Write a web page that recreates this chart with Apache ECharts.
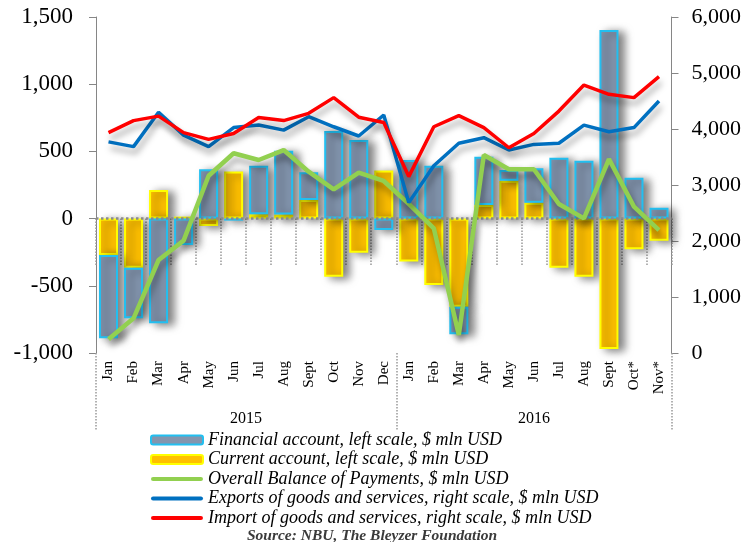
<!DOCTYPE html>
<html>
<head>
<meta charset="utf-8">
<script src="https://cdn.jsdelivr.net/npm/echarts/dist/echarts.min.js"></script>
<style>
  html, body { margin: 0; padding: 0; background: #fff; }
  #chart { width: 744px; height: 542px; }
</style>
</head>
<body>
<div id="chart"></div>
<script>
// months, Jan 2015 - Nov 2016
const months = ['Jan', 'Feb', 'Mar', 'Apr', 'May', 'Jun', 'Jul', 'Aug', 'Sept', 'Oct', 'Nov', 'Dec',
  'Jan', 'Feb', 'Mar', 'Apr', 'May', 'Jun', 'Jul', 'Aug', 'Sept', 'Oct*', 'Nov*']
const years = ['2015', '2016']

// left scale, $ mln USD (stacked: current account sits next to zero)
const currentAccount = [-270, -365, 213, 15, -55, 350, 32, 30, 138, -432, -254, 357,
  -320, -494, -655, 101, 282, 118, -365, -432, -970, -228, -164]
const financialAccount = [-620, -377, -779, -196, 367, -15, 362, 475, 206, 652, 585, -85,
  436, 394, -206, 360, 80, 256, 453, 431, 1403, 304, 81]
const overallBalance = [-898, -742, -308, -164, 319, 486, 436, 510, 349, 218, 342, 280,
  110, -72, -866, 473, 367, 367, 109, 2, 443, 89, -85]

// right scale, $ mln USD
const exportsGS = [3770, 3685, 4300, 3890, 3685, 4025, 4070, 3980, 4220, 4040, 3875, 4250,
  2685, 3345, 3745, 3845, 3625, 3725, 3745, 4070, 3950, 4025, 4500]
const importsGS = [3935, 4150, 4230, 3935, 3815, 3920, 4205, 4150, 4280, 4560, 4210, 4115,
  3150, 4040, 4240, 4025, 3665, 3920, 4320, 4785, 4620, 4560, 4935]

const serif = 'Liberation Serif'
const names = [
  'Financial account, left scale, $ mln USD',
  'Current account, left scale, $ mln USD',
  'Overall Balance of Payments, $ mln USD',
  'Exports of goods and services, right scale, $ mln USD',
  'Import of goods and services, right scale, $ mln USD'
]

const chart = echarts.init(document.getElementById('chart'))

const barShadow = { shadowColor: 'rgba(0,0,0,0.5)', shadowBlur: 9, shadowOffsetX: 6, shadowOffsetY: 2 }
const lineShadow = { shadowColor: 'rgba(0,0,0,0.35)', shadowBlur: 6, shadowOffsetX: 2, shadowOffsetY: 6 }
const noShadow = { shadowBlur: 0, shadowOffsetX: 0, shadowOffsetY: 0, shadowColor: 'transparent' }
const lineIcon = 'path://M2,0 L48,0 A2,2 0 0 1 48,4 L2,4 A2,2 0 0 1 2,0 Z'

function lineSeries(name, data, color, width, yIndex) {
  return {
    name: name,
    type: 'line',
    yAxisIndex: yIndex,
    data: data,
    symbol: 'none',
    z: 4,
    lineStyle: Object.assign({ color: color, width: width }, lineShadow),
    itemStyle: { color: color }
  }
}

function thousands(v) {
  return String(v).replace(/\B(?=(\d{3})+(?!\d))/g, ',')
}

const option = {
  animation: false,
  textStyle: { fontFamily: serif },
  grid: { left: 96, right: 70, top: 17, bottom: 189 },
  title: {
    text: 'Source: NBU, The Bleyzer Foundation',
    left: 'center',
    top: 523,
    textStyle: { fontFamily: serif, fontSize: 15.5, fontStyle: 'italic', fontWeight: 'bold', color: '#3a3a3a' }
  },
  legend: {
    orient: 'vertical',
    left: 145,
    top: 426,
    itemWidth: 52,
    itemHeight: 9,
    itemGap: 1.5,
    data: names.map(function (n, i) {
      return i < 2 ? { name: n } : { name: n, icon: lineIcon, itemStyle: { borderWidth: 0 } }
    }),
    textStyle: { fontFamily: serif, fontSize: 18, fontStyle: 'italic', color: '#000' },
    itemStyle: noShadow,
    lineStyle: noShadow
  },
  xAxis: [
    {
      type: 'category',
      position: 'bottom',
      data: months,
      axisLine: { show: false },
      axisTick: { show: true, interval: 0, length: 47, lineStyle: { type: 'dotted', color: '#999', width: 1.5 } },
      axisLabel: { interval: 0, rotate: 90, margin: 8, fontSize: 15, color: '#000', fontFamily: serif }
    },
    {
      type: 'category',
      position: 'bottom',
      data: months,
      axisLine: { show: false },
      axisTick: {
        show: true,
        interval: function (i) { return i === 0 || i === 12 },
        length: 77,
        lineStyle: { type: 'dotted', color: '#999', width: 1.5 }
      },
      axisLabel: {
        interval: function (i) { return i === 5 || i === 17 },
        margin: 58,
        fontSize: 16,
        color: '#000',
        fontFamily: serif,
        formatter: function (v, i) { return i === 5 ? '{s|' + years[0] + '}' : years[1] },
        rich: { s: { fontSize: 16, fontFamily: serif, color: '#000', padding: [0, 0, 0, 25] } }
      }
    }
  ],
  yAxis: [
    {
      type: 'value',
      min: -1000,
      max: 1500,
      interval: 500,
      splitLine: { show: false },
      axisLine: { show: true, lineStyle: { color: '#868686' } },
      axisTick: { show: true, length: 7, lineStyle: { color: '#868686' } },
      axisLabel: { margin: 23, fontSize: 23, color: '#000', fontFamily: serif, formatter: thousands }
    },
    {
      type: 'value',
      min: 0,
      max: 6000,
      interval: 1000,
      splitLine: { show: false },
      axisLine: { show: true, lineStyle: { color: '#868686' } },
      axisTick: { show: true, length: 7, lineStyle: { color: '#868686' } },
      axisLabel: { margin: 20, fontSize: 22, color: '#000', fontFamily: serif, formatter: thousands }
    }
  ],
  series: [
    {
      name: names[1],
      type: 'bar',
      stack: 'acc',
      barWidth: '76%',
      data: currentAccount,
      itemStyle: Object.assign({ color: '#ffc000', borderColor: '#ffff00', borderWidth: 2 }, barShadow)
    },
    {
      name: names[0],
      type: 'bar',
      stack: 'acc',
      barWidth: '76%',
      data: financialAccount,
      itemStyle: Object.assign({ color: '#8395ae', borderColor: '#22bff0', borderWidth: 2 }, barShadow),
      markLine: {
        silent: true,
        symbol: 'none',
        z: 3,
        label: { show: false },
        lineStyle: { type: 'dotted', color: '#8a8a8a', width: 2.5 },
        data: [{ yAxis: 0 }]
      }
    },
    lineSeries(names[2], overallBalance, '#92d050', 4.5, 0),
    lineSeries(names[3], exportsGS, '#0070c0', 3.5, 1),
    lineSeries(names[4], importsGS, '#ff0000', 3.5, 1)
  ]
}

chart.setOption(option)
</script>
</body>
</html>
